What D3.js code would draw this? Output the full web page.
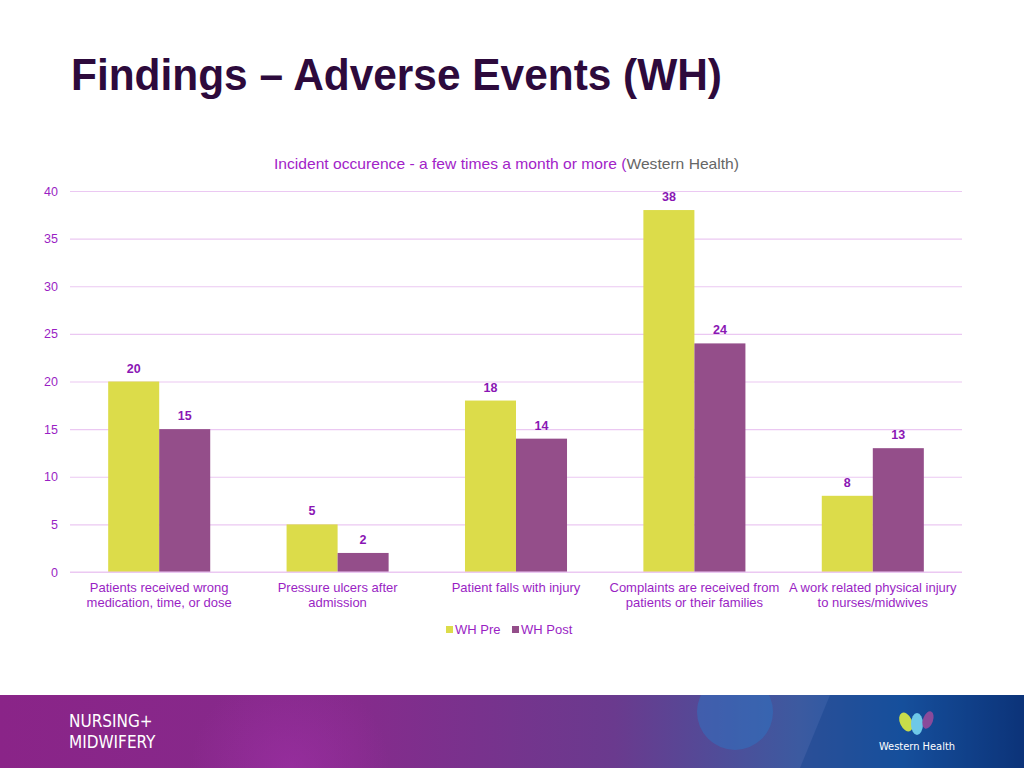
<!DOCTYPE html>
<html><head><meta charset="utf-8">
<script src="https://cdn.jsdelivr.net/npm/d3@7"></script>
<style>body{margin:0;background:#fff;}svg{display:block;}</style>
</head><body>
<svg id="c" width="1024" height="768"></svg>
<script>
const categories = [
  ["Patients received wrong","medication, time, or dose"],
  ["Pressure ulcers after","admission"],
  ["Patient falls with injury"],
  ["Complaints are received from","patients or their families"],
  ["A work related physical injury","to nurses/midwives"]
];
const seriesNames = ["WH Pre","WH Post"];
const whPre = [20,5,18,38,8];
const whPost = [15,2,14,24,13];
const yTicks = [0,5,10,15,20,25,30,35,40];
const colors = ["#dcdc4a","#944e8a"];
const textPurple = "#9a1fc4";

const svg = d3.select("#c");
const defs = svg.append("defs");
const g1 = defs.append("linearGradient").attr("id","foot").attr("x1","0").attr("x2","1").attr("y1","0").attr("y2","0");
[["0%","#8a2488"],["35%","#852b8c"],["60%","#6a3a8e"],["78%","#3c5aa0"],["88%","#1a5aa8"],["100%","#0b2f72"]].forEach(s=>g1.append("stop").attr("offset",s[0]).attr("stop-color",s[1]));
const rg = defs.append("radialGradient").attr("id","glow");
rg.append("stop").attr("offset","0%").attr("stop-color","#a030a8").attr("stop-opacity",0.6);
rg.append("stop").attr("offset","100%").attr("stop-color","#a030a8").attr("stop-opacity",0);
defs.append("clipPath").attr("id","fclip").append("rect").attr("x",0).attr("y",695).attr("width",1024).attr("height",73);

svg.append("text").attr("x",71).attr("y",90).attr("font-family","Liberation Sans, Arial, sans-serif")
  .attr("font-weight","bold").attr("font-size",44).attr("fill","#2d0a3c").attr("textLength",651).attr("lengthAdjust","spacingAndGlyphs")
  .text("Findings – Adverse Events (WH)");

const ct = svg.append("text").attr("x",274).attr("y",169)
  .attr("font-family","Liberation Sans, Arial, sans-serif").attr("font-size",15).attr("textLength",465).attr("lengthAdjust","spacingAndGlyphs");
ct.append("tspan").attr("fill","#a222c8").text("Incident occurence - a few times a month or more (");
ct.append("tspan").attr("fill","#666").text("Western Health)");

const pL=70, pR=962, pT=191, pB=572;
const x0 = d3.scaleBand().domain(d3.range(categories.length)).range([pL,pR]).paddingInner(0.428).paddingOuter(0.214);
const x1 = d3.scaleBand().domain([0,1]).range([0,x0.bandwidth()]);
const y = d3.scaleLinear().domain([0,40]).range([pB,pT]);

const yAxis = svg.append("g").attr("transform",`translate(${pL},0)`)
  .call(d3.axisLeft(y).tickValues(yTicks).tickSize(-(pR-pL)).tickPadding(12));
yAxis.select(".domain").remove();
yAxis.selectAll("line").attr("stroke","#ebc8f2").attr("stroke-width",1.2);
yAxis.selectAll("text").attr("fill",textPurple).attr("font-family","Liberation Sans, Arial, sans-serif").attr("font-size",12.5);

const data = categories.map((c,i)=>({i, vals:[whPre[i], whPost[i]]}));
const grp = svg.selectAll(".grp").data(data).join("g").attr("class","grp").attr("transform",d=>`translate(${x0(d.i)},0)`);
grp.selectAll("rect").data(d=>d.vals.map((v,k)=>({v,k}))).join("rect")
  .attr("x",d=>x1(d.k)).attr("width",x1.bandwidth()).attr("y",d=>y(d.v)).attr("height",d=>y(0)-y(d.v))
  .attr("fill",d=>colors[d.k]);
grp.selectAll("text.lbl").data(d=>d.vals.map((v,k)=>({v,k}))).join("text").attr("class","lbl")
  .attr("x",d=>x1(d.k)+x1.bandwidth()/2).attr("y",d=>y(d.v)-9).attr("text-anchor","middle")
  .attr("font-family","Liberation Sans, Arial, sans-serif").attr("font-weight","bold").attr("font-size",12.5)
  .attr("fill","#8a16b4").text(d=>d.v);

svg.append("line").attr("x1",pL).attr("x2",pR).attr("y1",y(0)).attr("y2",y(0)).attr("stroke","#ebc8f2").attr("stroke-width",1.2);

const xl = svg.selectAll(".xl").data(categories).join("text").attr("class","xl")
  .attr("text-anchor","middle").attr("font-family","Liberation Sans, Arial, sans-serif").attr("font-size",13).attr("fill",textPurple);
xl.each(function(lines,i){
  const cx = x0(i)+x0.bandwidth()/2;
  d3.select(this).selectAll("tspan").data(lines).join("tspan").attr("x",cx).attr("y",(d,j)=>592+j*15).text(d=>d);
});

const legX=[446,512];
seriesNames.forEach((n,k)=>{
  svg.append("rect").attr("x",legX[k]).attr("y",626).attr("width",7).attr("height",7).attr("fill",colors[k]);
  svg.append("text").attr("x",legX[k]+9).attr("y",634).attr("font-family","Liberation Sans, Arial, sans-serif").attr("font-size",13).attr("fill",textPurple).text(n);
});

// footer
const foot = svg.append("g").attr("clip-path","url(#fclip)");
foot.append("rect").attr("x",0).attr("y",695).attr("width",1024).attr("height",73).attr("fill","url(#foot)");
foot.append("circle").attr("cx",290).attr("cy",770).attr("r",100).attr("fill","url(#glow)");
foot.append("ellipse").attr("cx",735).attr("cy",712).attr("rx",38).attr("ry",38).attr("fill","#2a78c8").attr("opacity",0.45);
foot.append("polygon").attr("points","830,695 1024,695 1024,768 800,768").attr("fill","#0d3d88").attr("opacity",0.35);
const ff = "DejaVu Sans Condensed, Liberation Sans Narrow, sans-serif";
foot.append("text").attr("x",69).attr("y",727).attr("font-family",ff).attr("font-size",17).attr("fill","#fff").text("NURSING+");
foot.append("text").attr("x",69).attr("y",748).attr("font-family",ff).attr("font-size",17).attr("fill","#fff").text("MIDWIFERY");
foot.append("ellipse").attr("cx",906).attr("cy",722).attr("rx",6).attr("ry",10).attr("transform","rotate(-25,906,722)").attr("fill","#c8dc4a");
foot.append("ellipse").attr("cx",917).attr("cy",724).attr("rx",6).attr("ry",11).attr("fill","#6ec8e8");
foot.append("ellipse").attr("cx",928).attr("cy",720).attr("rx",5).attr("ry",9).attr("transform","rotate(20,928,720)").attr("fill","#8a4a9a");
foot.append("text").attr("x",917).attr("y",750).attr("text-anchor","middle").attr("font-family",ff).attr("font-size",11).attr("fill","#fff").text("Western Health");
</script>
</body></html>
